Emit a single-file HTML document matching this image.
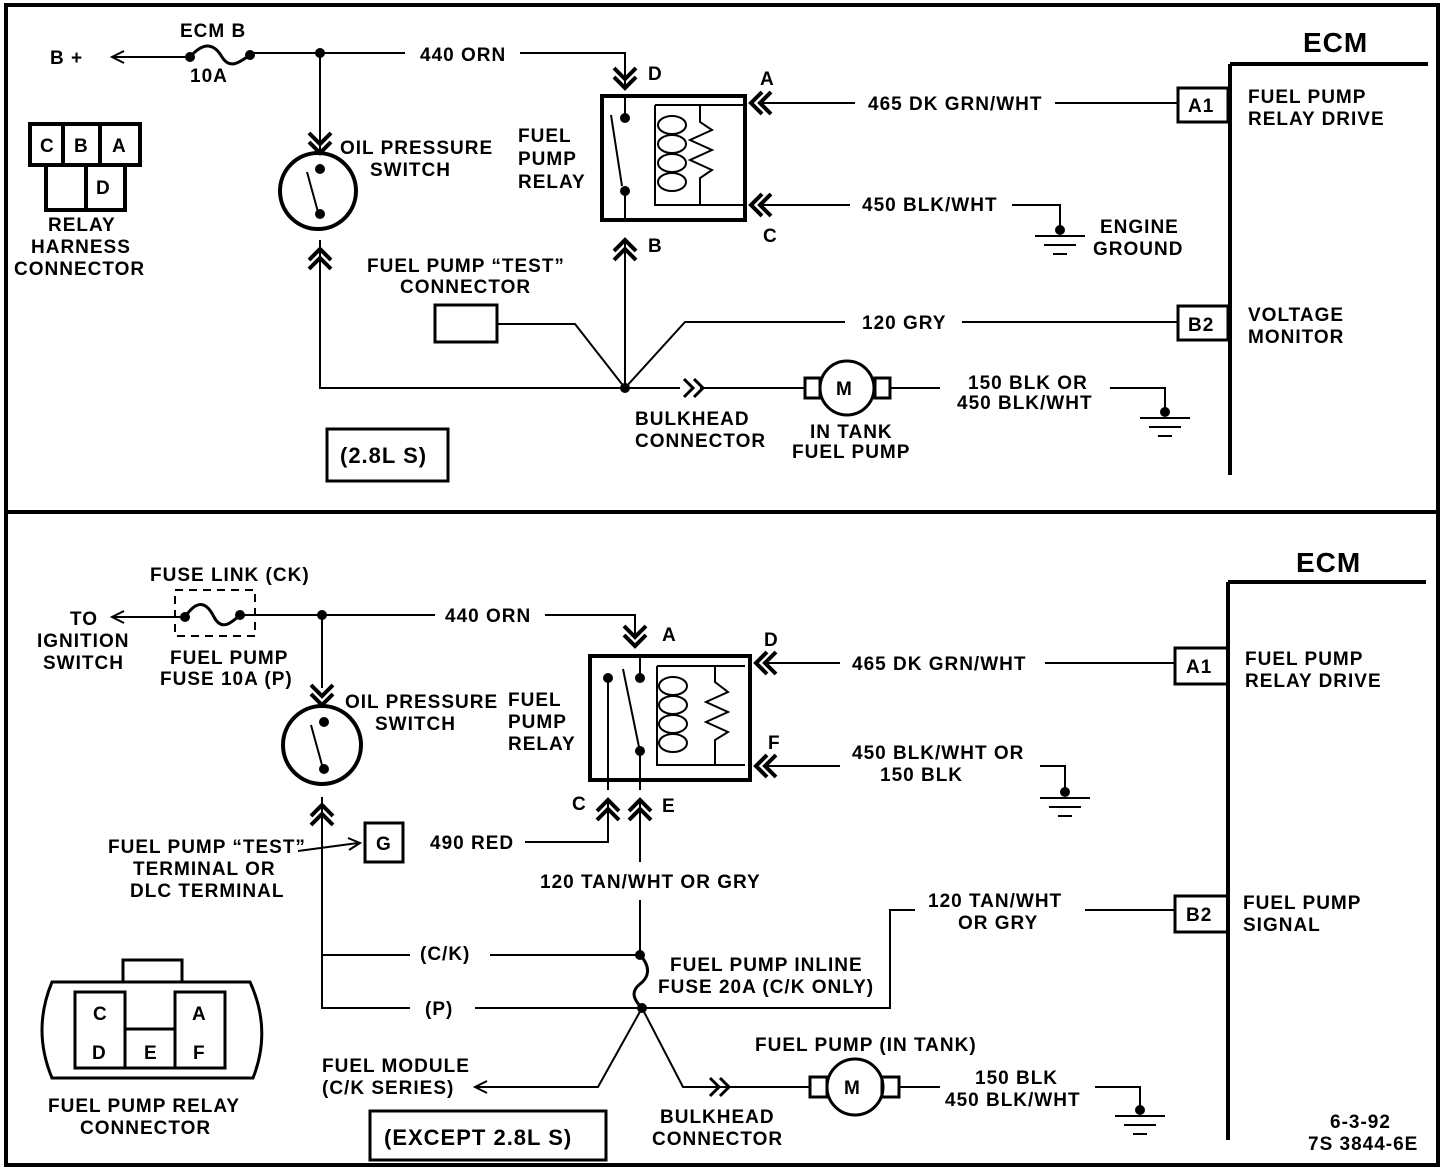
<!DOCTYPE html>
<html><head><meta charset="utf-8"><style>
html,body{margin:0;padding:0;background:#fff}
svg{display:block}
text{font-family:"Liberation Sans",sans-serif;font-weight:bold;font-size:19px;letter-spacing:1px;fill:#000}
.w{stroke:#000;stroke-width:2;fill:none}
.t{stroke:#000;stroke-width:4;fill:none}
.c{stroke:#000;stroke-width:3;fill:none}
</style></head><body>
<svg width="1456" height="1172" viewBox="0 0 1456 1172" xmlns="http://www.w3.org/2000/svg">
<defs>
<path id="chev" d="M-11,-20 L0,-9 L11,-20 M-11,-11 L0,0 L11,-11" stroke="#000" stroke-width="4" fill="none"/>
<g id="gnd"><circle cx="0" cy="0" r="5" fill="#000"/><path d="M-25,6 H25 M-16,15 H16 M-7,24 H7" stroke="#000" stroke-width="2"/></g>
</defs>
<!-- frame -->
<rect x="6" y="5" width="1432" height="1160" class="t"/>
<line x1="6" y1="512" x2="1438" y2="512" class="t"/>

<!-- ===== TOP ===== -->
<text x="50" y="64">B +</text>
<path d="M112,57 H185" class="w"/><path d="M124,51 L112,57 L124,63" class="w"/>
<circle cx="190" cy="57" r="5"/><circle cx="250" cy="55" r="5"/>
<path d="M190,57 C205,40 215,45 222,57 C230,70 240,62 250,55" class="c"/>
<text x="180" y="37">ECM B</text><text x="190" y="82">10A</text>
<path d="M250,53 H405 M520,53 H625 V85" class="w"/>
<circle cx="320" cy="53" r="5"/>
<text x="420" y="61">440 ORN</text>
<use href="#chev" x="625" y="88"/><text x="648" y="80">D</text>
<!-- oil pressure switch -->
<path d="M320,53 V150" class="w"/>
<use href="#chev" x="320" y="153"/>
<circle cx="318" cy="191" r="38" class="t"/>
<circle cx="320" cy="169" r="5"/><circle cx="320" cy="214" r="5"/>
<path d="M307,172 L318,212" class="w"/>
<use href="#chev" x="320" y="229" transform="rotate(180 320 239)"/>
<path d="M320,240 V388 H680" class="w"/>
<text x="340" y="154">OIL PRESSURE</text><text x="370" y="176">SWITCH</text>
<!-- relay top -->
<rect x="602" y="96" width="143" height="124" class="t"/>
<path d="M655,105 H745 M655,105 V205 H745 M700,105 V122 L712,130 L690,140 L712,150 L690,160 L712,170 L700,178 V205" class="w"/>
<g class="w"><ellipse cx="672" cy="125" rx="14" ry="9"/><ellipse cx="672" cy="144" rx="14" ry="9"/><ellipse cx="672" cy="163" rx="14" ry="9"/><ellipse cx="672" cy="182" rx="14" ry="9"/></g>
<circle cx="625" cy="118" r="5"/><circle cx="625" cy="191" r="5"/>
<path d="M625,98 V118 M611,115 L622,186 M625,191 V220" class="w"/>
<use href="#chev" x="625" y="220" transform="rotate(180 625 230)"/>
<text x="648" y="252">B</text>
<path d="M625,240 V388" class="w"/>
<text x="518" y="142">FUEL</text><text x="518" y="165">PUMP</text><text x="518" y="188">RELAY</text>
<use href="#chev" x="751" y="103" transform="rotate(90 751 103)"/>
<text x="760" y="85">A</text>
<path d="M760,103 H855 M1055,103 H1178" class="w"/>
<text x="868" y="110">465 DK GRN/WHT</text>
<rect x="1178" y="88" width="50" height="34" class="c"/><text x="1188" y="112">A1</text>
<use href="#chev" x="751" y="205" transform="rotate(90 751 205)"/>
<text x="763" y="242">C</text>
<path d="M760,205 H850 M1012,205 H1060 V228" class="w"/>
<text x="862" y="211">450 BLK/WHT</text>
<use href="#gnd" x="1060" y="230"/>
<text x="1100" y="233">ENGINE</text><text x="1093" y="255">GROUND</text>
<!-- ECM top -->
<text x="1303" y="52" style="font-size:28px">ECM</text>
<path d="M1230,64 H1428 M1230,64 V475" class="t"/>
<text x="1248" y="103">FUEL PUMP</text><text x="1248" y="125">RELAY DRIVE</text>
<path d="M625,388 L685,322 H845 M962,322 H1178" class="w"/>
<text x="862" y="329">120 GRY</text>
<rect x="1178" y="306" width="50" height="34" class="c"/><text x="1188" y="331">B2</text>
<text x="1248" y="321">VOLTAGE</text><text x="1248" y="343">MONITOR</text>
<!-- test connector -->
<rect x="435" y="305" width="62" height="37" class="c"/>
<path d="M497,324 H575 L625,388" class="w"/>
<text x="367" y="272">FUEL PUMP “TEST”</text><text x="400" y="293">CONNECTOR</text>
<circle cx="625" cy="388" r="5"/>
<path d="M684,379 L693,388 L684,397 M694,379 L703,388 L694,397" class="c"/>
<path d="M700,388 H805" class="w"/>
<rect x="805" y="378" width="15" height="20" class="c"/><rect x="875" y="378" width="15" height="20" class="c"/>
<circle cx="847" cy="388" r="27" class="c"/><text x="836" y="395">M</text>
<path d="M890,388 H940 M1110,388 H1165 V408" class="w"/>
<text x="968" y="389">150 BLK OR</text><text x="957" y="409">450 BLK/WHT</text>
<use href="#gnd" x="1165" y="412"/>
<text x="635" y="425">BULKHEAD</text><text x="635" y="447">CONNECTOR</text>
<text x="810" y="438">IN TANK</text><text x="792" y="458">FUEL PUMP</text>
<rect x="327" y="429" width="121" height="52" class="c"/>
<text x="340" y="463" style="font-size:22px">(2.8L S)</text>
<!-- relay harness connector -->
<path d="M30,124 H140 V165 H30 Z M63,124 V165 M100,124 V165 M46,165 V210 H125 V165 M86,165 V210" class="t"/>
<text x="40" y="152">C</text><text x="74" y="152">B</text><text x="112" y="152">A</text><text x="96" y="194">D</text>
<text x="48" y="231">RELAY</text><text x="31" y="253">HARNESS</text><text x="14" y="275">CONNECTOR</text>

<!-- ===== BOTTOM ===== -->
<text x="150" y="581">FUSE LINK (CK)</text>
<rect x="175" y="590" width="80" height="46" stroke="#000" stroke-width="2" stroke-dasharray="8,6" fill="none"/>
<path d="M112,617 H180" class="w"/><path d="M124,611 L112,617 L124,623" class="w"/>
<circle cx="185" cy="617" r="5"/><circle cx="240" cy="615" r="5"/>
<path d="M185,617 C198,598 207,603 214,617 C222,632 232,622 240,615" class="c"/>
<path d="M240,615 H435 M545,615 H635 V635" class="w"/>
<circle cx="322" cy="615" r="5"/>
<text x="445" y="622">440 ORN</text>
<text x="70" y="625">TO</text><text x="37" y="647">IGNITION</text><text x="43" y="669">SWITCH</text>
<text x="170" y="664">FUEL PUMP</text><text x="160" y="685">FUSE 10A (P)</text>
<use href="#chev" x="635" y="646"/><text x="662" y="641">A</text>
<!-- oil pressure switch bottom -->
<use href="#chev" x="322" y="705"/>
<path d="M322,615 V688" class="w"/>
<circle cx="322" cy="745" r="39" class="t"/>
<circle cx="324" cy="722" r="5"/><circle cx="324" cy="769" r="5"/>
<path d="M311,725 L322,765" class="w"/>
<use href="#chev" x="322" y="785" transform="rotate(180 322 795)"/>
<path d="M322,797 V1008 H410 M322,955 H410" class="w"/>
<text x="345" y="708">OIL PRESSURE</text><text x="375" y="730">SWITCH</text>
<text x="508" y="706">FUEL</text><text x="508" y="728">PUMP</text><text x="508" y="750">RELAY</text>
<!-- relay bottom -->
<rect x="590" y="656" width="160" height="124" class="t"/>
<path d="M657,666 H745 M657,666 V765 H745 M715,666 V682 L728,692 L706,702 L728,712 L706,722 L728,732 L715,740 V765" class="w"/>
<g class="w"><ellipse cx="673" cy="686" rx="14" ry="9"/><ellipse cx="673" cy="705" rx="14" ry="9"/><ellipse cx="673" cy="724" rx="14" ry="9"/><ellipse cx="673" cy="743" rx="14" ry="9"/></g>
<circle cx="608" cy="678" r="5"/><circle cx="640" cy="678" r="5"/><circle cx="640" cy="751" r="5"/>
<path d="M640,658 V678 M623,669 L639,747 M608,678 V790 M640,751 V790" class="w"/>
<use href="#chev" x="608" y="780" transform="rotate(180 608 790)"/>
<use href="#chev" x="640" y="780" transform="rotate(180 640 790)"/>
<text x="572" y="810">C</text><text x="662" y="812">E</text>
<path d="M608,798 V842 H525 M640,798 V862 M640,900 V955" class="w"/>
<text x="430" y="849">490 RED</text>
<rect x="365" y="823" width="38" height="39" class="c"/><text x="376" y="850">G</text>
<path d="M298,851 L358,843" class="w"/><path d="M348,838 L360,843 L349,850" class="w"/>
<text x="108" y="853">FUEL PUMP “TEST”</text><text x="133" y="875">TERMINAL OR</text><text x="130" y="897">DLC TERMINAL</text>
<text x="540" y="888">120 TAN/WHT OR GRY</text>
<use href="#chev" x="756" y="663" transform="rotate(90 756 663)"/><text x="764" y="646">D</text>
<path d="M765,663 H840 M1045,663 H1175" class="w"/>
<text x="852" y="670">465 DK GRN/WHT</text>
<rect x="1175" y="648" width="53" height="36" class="c"/><text x="1186" y="673">A1</text>
<use href="#chev" x="756" y="766" transform="rotate(90 756 766)"/><text x="768" y="749">F</text>
<path d="M765,766 H840 M1040,766 H1065 V790" class="w"/>
<text x="852" y="759">450 BLK/WHT OR</text><text x="880" y="781">150 BLK</text>
<use href="#gnd" x="1065" y="792"/>
<!-- ECM bottom -->
<text x="1296" y="572" style="font-size:28px">ECM</text>
<path d="M1228,582 H1426 M1228,582 V1140" class="t"/>
<text x="1245" y="665">FUEL PUMP</text><text x="1245" y="687">RELAY DRIVE</text>
<text x="1243" y="909">FUEL PUMP</text><text x="1243" y="931">SIGNAL</text>
<text x="928" y="907">120 TAN/WHT</text><text x="958" y="929">OR GRY</text>
<path d="M1085,910 H1175" class="w"/>
<rect x="1175" y="896" width="53" height="36" class="c"/><text x="1186" y="921">B2</text>
<!-- junctions / inline fuse -->
<path d="M490,955 H640 M475,1008 H890 V910 H915" class="w"/>
<text x="420" y="960">(C/K)</text><text x="425" y="1015">(P)</text>
<circle cx="640" cy="955" r="5"/><circle cx="642" cy="1008" r="5"/>
<path d="M640,955 C652,968 648,978 640,984 C630,992 634,1000 642,1008" class="c"/>
<text x="670" y="971">FUEL PUMP INLINE</text><text x="658" y="993">FUSE 20A (C/K ONLY)</text>
<path d="M642,1008 L598,1087 H475 M642,1008 L683,1087 H810" class="w"/>
<path d="M487,1081 L475,1087 L487,1093" class="w"/>
<text x="322" y="1072">FUEL MODULE</text><text x="322" y="1094">(C/K SERIES)</text>
<path d="M710,1078 L719,1087 L710,1096 M720,1078 L729,1087 L720,1096" class="c"/>
<rect x="810" y="1077" width="17" height="20" class="c"/><rect x="882" y="1077" width="17" height="20" class="c"/>
<circle cx="855" cy="1087" r="28" class="c"/><text x="844" y="1094">M</text>
<path d="M899,1087 H940 M1095,1087 H1140 V1108" class="w"/>
<text x="755" y="1051">FUEL PUMP (IN TANK)</text>
<text x="975" y="1084">150 BLK</text><text x="945" y="1106">450 BLK/WHT</text>
<use href="#gnd" x="1140" y="1110"/>
<text x="660" y="1123">BULKHEAD</text><text x="652" y="1145">CONNECTOR</text>
<rect x="370" y="1111" width="236" height="49" class="c"/>
<text x="384" y="1145" style="font-size:22px">(EXCEPT 2.8L S)</text>
<text x="1330" y="1128">6-3-92</text><text x="1308" y="1150">7S 3844-6E</text>
<!-- relay connector bottom -->
<rect x="123" y="960" width="59" height="22" class="c"/>
<path d="M52,982 H250 Q272,1030 253,1078 H52 Q32,1030 52,982 Z" class="c"/>
<path d="M75,992 H125 V1068 H75 Z M175,992 H225 V1068 H175 Z M125,1029 H175 M125,1068 H175" class="c"/>
<text x="93" y="1020">C</text><text x="192" y="1020">A</text><text x="92" y="1059">D</text><text x="144" y="1059">E</text><text x="193" y="1059">F</text>
<text x="48" y="1112">FUEL PUMP RELAY</text><text x="80" y="1134">CONNECTOR</text>
</svg>
</body></html>
